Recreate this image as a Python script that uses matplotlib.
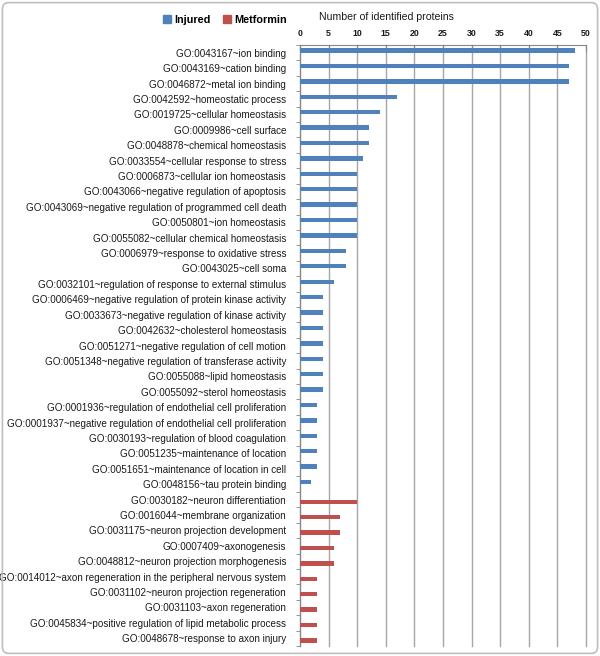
import matplotlib.pyplot as plt
from matplotlib.patches import FancyBboxPatch, Patch
import numpy as np

# GO terms, top to bottom
injured_terms = [
    "GO:0043167~ion binding",
    "GO:0043169~cation binding",
    "GO:0046872~metal ion binding",
    "GO:0042592~homeostatic process",
    "GO:0019725~cellular homeostasis",
    "GO:0009986~cell surface",
    "GO:0048878~chemical homeostasis",
    "GO:0033554~cellular response to stress",
    "GO:0006873~cellular ion homeostasis",
    "GO:0043066~negative regulation of apoptosis",
    "GO:0043069~negative regulation of programmed cell death",
    "GO:0050801~ion homeostasis",
    "GO:0055082~cellular chemical homeostasis",
    "GO:0006979~response to oxidative stress",
    "GO:0043025~cell soma",
    "GO:0032101~regulation of response to external stimulus",
    "GO:0006469~negative regulation of protein kinase activity",
    "GO:0033673~negative regulation of kinase activity",
    "GO:0042632~cholesterol homeostasis",
    "GO:0051271~negative regulation of cell motion",
    "GO:0051348~negative regulation of transferase activity",
    "GO:0055088~lipid homeostasis",
    "GO:0055092~sterol homeostasis",
    "GO:0001936~regulation of endothelial cell proliferation",
    "GO:0001937~negative regulation of endothelial cell proliferation",
    "GO:0030193~regulation of blood coagulation",
    "GO:0051235~maintenance of location",
    "GO:0051651~maintenance of location in cell",
    "GO:0048156~tau protein binding",
]
injured_counts = [48, 47, 47, 17, 14, 12, 12, 11, 10, 10, 10, 10, 10, 8, 8, 6,
                  4, 4, 4, 4, 4, 4, 4, 3, 3, 3, 3, 3, 2]

metformin_terms = [
    "GO:0030182~neuron differentiation",
    "GO:0016044~membrane organization",
    "GO:0031175~neuron projection development",
    "GO:0007409~axonogenesis",
    "GO:0048812~neuron projection morphogenesis",
    "GO:0014012~axon regeneration in the peripheral nervous system",
    "GO:0031102~neuron projection regeneration",
    "GO:0031103~axon regeneration",
    "GO:0045834~positive regulation of lipid metabolic process",
    "GO:0048678~response to axon injury",
]
metformin_counts = [10, 7, 7, 6, 6, 3, 3, 3, 3, 3]

x_ticks = list(range(0, 51, 5))

blue = "#4f81bd"
red = "#c0504d"
font = "Liberation Sans"

fig = plt.figure(figsize=(6, 6.56), dpi=100)
ax = fig.add_axes([0.5, 1 - 646 / 656, 286 / 600, 601 / 656])

labels = injured_terms + metformin_terms
n_inj = len(injured_terms)
y_inj = np.arange(n_inj)
y_met = np.arange(n_inj, len(labels))
bw = 0.28

ax.barh(y_inj - bw / 2, injured_counts, height=bw, color=blue, zorder=3)
ax.barh(y_met + bw / 2, metformin_counts, height=bw, color=red, zorder=3)

ax.set_ylim(len(labels) - 0.5, -0.5)
ax.set_xlim(0, 50)

# category labels
ax.set_yticks(np.arange(len(labels)))
ax.set_yticklabels(labels, fontsize=7.1, family=font, color="#1a1a1a")
ax.tick_params(axis="y", length=0, pad=10)
# small ticks between categories on the left spine
ax.set_yticks(np.arange(len(labels) + 1) - 0.5, minor=True)
ax.tick_params(axis="y", which="minor", length=3, color="#868686", direction="out")

ax.xaxis.tick_top()
ax.set_xticks(x_ticks)
ax.set_xticklabels([str(t) for t in x_ticks], fontsize=6.3, family=font,
                   fontweight="bold", color="#1a1a1a")
ax.tick_params(axis="x", direction="in", length=4, color="#868686", pad=5)
ax.grid(axis="x", color="#a6a6a6", linewidth=1, zorder=0)
for gl in ax.get_xgridlines():
    gl.set_clip_on(False)

for side in ["right", "bottom"]:
    ax.spines[side].set_visible(False)
for side in ["left", "top"]:
    ax.spines[side].set_color("#868686")

fig.text(386 / 600, 1 - 17 / 656, "Number of identified proteins", ha="center",
         va="center", fontsize=7.6, family=font, color="#1a1a1a")

# legend
handles = [Patch(color=blue, label="Injured"), Patch(color=red, label="Metformin")]
fig.legend(handles=handles, loc="center", bbox_to_anchor=(225 / 600, 1 - 20 / 656),
           ncol=2, frameon=False, prop={"family": font, "weight": "bold", "size": 7.8},
           handlelength=0.7, handleheight=0.7, handletextpad=0.3, columnspacing=1.2)

border = FancyBboxPatch((0.004, 0.004), 0.992, 0.992, boxstyle="round,pad=0,rounding_size=0.01",
                        transform=fig.transFigure, fill=False, edgecolor="#bfbfbf", linewidth=1.2)
fig.patches.append(border)

fig.savefig("out.png", dpi=100)
